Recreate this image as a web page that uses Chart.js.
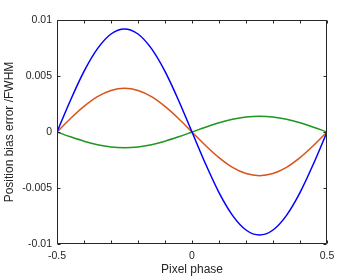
<!DOCTYPE html>
<html>
<head>
<meta charset="utf-8">
<script src="https://cdn.jsdelivr.net/npm/chart.js@4.4.1/dist/chart.umd.min.js"></script>
<style>
  html, body { margin: 0; padding: 0; background: #fff; }
  #wrap { width: 361px; height: 277px; }
</style>
</head>
<body>
<div id="wrap"><canvas id="chart" width="361" height="277"></canvas></div>
<script>
// Pixel phase samples and bias curves
const phase = [-0.5, -0.45, -0.4, -0.35, -0.3, -0.25, -0.2, -0.15, -0.1, -0.05, 0,
               0.05, 0.1, 0.15, 0.2, 0.25, 0.3, 0.35, 0.4, 0.45, 0.5];
const blueBias = [0, 0.00284, 0.00541, 0.00744, 0.00875, 0.0092, 0.00875, 0.00744, 0.00541, 0.00284, 0,
                  -0.00284, -0.00541, -0.00744, -0.00875, -0.0092, -0.00875, -0.00744, -0.00541, -0.00284, 0];
const orangeBias = [0, 0.00121, 0.00229, 0.00316, 0.00371, 0.0039, 0.00371, 0.00316, 0.00229, 0.00121, 0,
                    -0.00121, -0.00229, -0.00316, -0.00371, -0.0039, -0.00371, -0.00316, -0.00229, -0.00121, 0];
const greenBias = [0, -0.00043, -0.00082, -0.00113, -0.00133, -0.0014, -0.00133, -0.00113, -0.00082, -0.00043, 0,
                   0.00043, 0.00082, 0.00113, 0.00133, 0.0014, 0.00133, 0.00113, 0.00082, 0.00043, 0];

const xTickLabels = ['-0.5', '0', '0.5'];
const yTickLabels = ['-0.01', '-0.005', '0', '0.005', '0.01'];

const axisColor = '#262626';

function toPoints(ys) {
    return phase.map((x, i) => ({ x: x, y: ys[i] }));
}

function series(ys, color) {
    return {
        data: toPoints(ys),
        borderColor: color,
        borderWidth: 1.5,
        pointRadius: 0,
        fill: false,
        cubicInterpolationMode: 'monotone'
    };
}

// MATLAB-style box with inward tick marks
const boxPlugin = {
    id: 'box',
    afterDraw(chart) {
        const ctx = chart.ctx;
        const a = chart.chartArea;
        const xs = chart.scales.x, ys = chart.scales.y;
        const L = Math.round(a.left) + 0.5, R = Math.round(a.right) - 0.5;
        const T = Math.round(a.top) + 0.5, B = Math.round(a.bottom) - 0.5;
        const len = 3;
        ctx.save();
        ctx.strokeStyle = axisColor;
        ctx.lineWidth = 1;
        ctx.beginPath();
        ctx.rect(L, T, R - L, B - T);
        xs.ticks.forEach(t => {
            const px = Math.round(xs.getPixelForValue(t.value)) + 0.5;
            ctx.moveTo(px, B); ctx.lineTo(px, B - len);
            ctx.moveTo(px, T); ctx.lineTo(px, T + len);
        });
        ys.ticks.forEach(t => {
            const py = Math.round(ys.getPixelForValue(t.value)) + 0.5;
            ctx.moveTo(L, py); ctx.lineTo(L + len, py);
            ctx.moveTo(R, py); ctx.lineTo(R - len, py);
        });
        ctx.stroke();
        ctx.restore();
    }
};

function fmt(v) {
    return String(+v.toFixed(4));
}

new Chart(document.getElementById('chart'), {
    type: 'line',
    data: {
        datasets: [
            series(blueBias, '#0000ff'),
            series(orangeBias, '#d95319'),
            series(greenBias, '#1f961f')
        ]
    },
    options: {
        responsive: false,
        animation: false,
        layout: { padding: { top: 20, right: 34, left: 0, bottom: 0 } },
        plugins: { legend: { display: false }, tooltip: { enabled: false } },
        scales: {
            x: {
                type: 'linear',
                min: -0.5,
                max: 0.5,
                grid: { display: false, drawTicks: false },
                border: { display: false },
                ticks: {
                    stepSize: 0.1,
                    maxRotation: 0,
                    autoSkip: false,
                    padding: 6,
                    color: axisColor,
                    font: { family: 'Liberation Sans, Arial, sans-serif', size: 10.5 },
                    callback: v => xTickLabels.includes(fmt(v)) ? fmt(v) : ''
                },
                title: {
                    display: true,
                    text: 'Pixel phase',
                    color: axisColor,
                    padding: { top: 0, bottom: 0 },
                    font: { family: 'Liberation Sans, Arial, sans-serif', size: 12 }
                },
                afterFit: s => { s.height = 33; }
            },
            y: {
                min: -0.01,
                max: 0.01,
                grid: { display: false, drawTicks: false },
                border: { display: false },
                ticks: {
                    stepSize: 0.005,
                    autoSkip: false,
                    padding: 5,
                    color: axisColor,
                    font: { family: 'Liberation Sans, Arial, sans-serif', size: 10.5 },
                    callback: v => yTickLabels.includes(fmt(v)) ? fmt(v) : ''
                },
                title: {
                    display: true,
                    text: 'Position bias error /FWHM',
                    color: axisColor,
                    padding: { top: 2, bottom: 0 },
                    font: { family: 'Liberation Sans, Arial, sans-serif', size: 12 }
                },
                afterFit: s => { s.width = 57; }
            }
        }
    },
    plugins: [boxPlugin]
});
</script>
</body>
</html>
